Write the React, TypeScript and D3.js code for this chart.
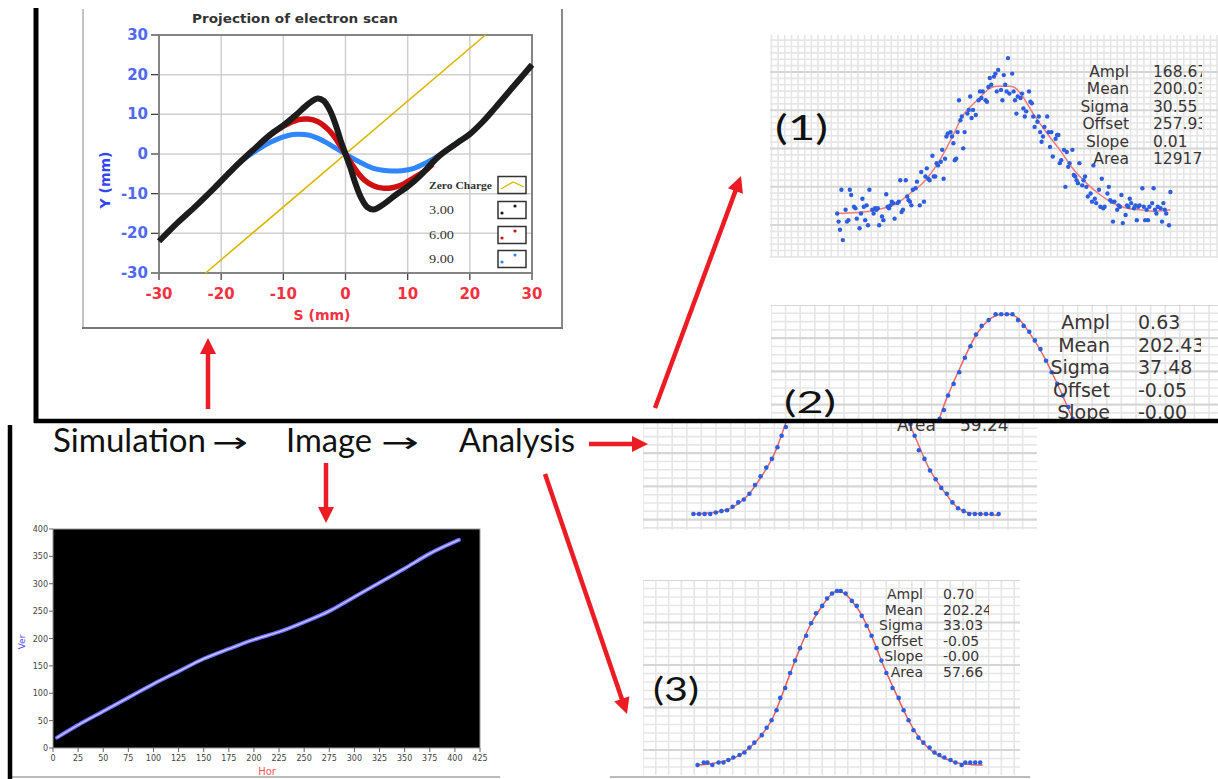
import React from "react";
import * as d3 from "d3";

// ---------- top-left chart: projection of electron scan (mm) ----------
const scanTicks = [-30, -20, -10, 0, 10, 20, 30];
const zeroS = [-22.5, 22.5];
const zeroY = [-30, 30];
const charge3S = [-30, -27, -24, -21, -18, -15, -12, -10, -8, -6, -4.5, -3.5, -2.5, -1.5, -0.8, 0, 0.8, 1.5, 2.5, 3.5, 4.5, 6, 8, 10, 12, 15, 18, 20, 22, 24, 27, 30];
const charge3Y = [-22, -17.3, -13, -8.4, -3.6, 0.8, 5, 7.2, 9.8, 12.6, 14, 13.4, 11, 7, 3.5, 0, -3.5, -7, -11, -13.4, -14, -12.8, -10.4, -8.2, -5.5, -0.6, 2.8, 5, 8, 11.5, 17, 22.5];
const charge6S = [-14, -13, -11, -9, -7.5, -6, -4.5, -3, -2, -1, 0, 1, 2, 3, 4.5, 6, 7.5, 9, 11, 13, 14];
const charge6Y = [2.2, 3.6, 6, 7.8, 8.7, 8.8, 8.2, 6.5, 4.8, 2.5, 0, -2.5, -4.8, -6.5, -8, -8.6, -8.5, -7.8, -6, -4, -2.6];
const charge9S = [-19, -18, -16, -14, -12, -10, -8.5, -7.5, -6, -4.5, -3, -1.5, 0, 1.5, 3, 4.5, 6, 7.5, 9, 11, 13, 15, 17, 18.5];
const charge9Y = [-5, -3.6, -0.9, 1.2, 3, 4.3, 4.9, 5, 4.8, 4, 2.8, 1.4, 0, -1.4, -2.6, -3.6, -4.1, -4.3, -4.2, -3.6, -2.2, -0.4, 1.8, 3.6];
const legendNames = ["Zero Charge", "3.00", "6.00", "9.00"];

// ---------- bottom-left chart: traced image ----------
const horTicks = [0, 25, 50, 75, 100, 125, 150, 175, 200, 225, 250, 275, 300, 325, 350, 375, 400, 425];
const verTicks = [0, 50, 100, 150, 200, 250, 300, 350, 400];
const traceHor = [4, 25, 50, 75, 100, 125, 150, 175, 200, 225, 250, 275, 300, 325, 350, 375, 404];
const traceVer = [19, 42, 67, 92, 117, 140, 163, 181, 198, 212, 230, 250, 276, 302, 328, 355, 380];

// ---------- analysis (1): noisy profile + fit ----------
const prof1X = [78, 79, 80, 82, 81, 84, 85, 86, 87, 88, 90, 91, 92, 94, 95, 96, 97, 98, 99, 100, 101, 103, 104, 105, 106, 107, 108, 110, 111, 113, 114, 115, 116, 117, 118, 119, 121, 122, 123, 124, 125, 127, 128, 129, 130, 131, 132, 134, 135, 137, 138, 140, 141, 142, 143, 144, 146, 147, 148, 149, 150, 152, 153, 154, 155, 156, 157, 159, 160, 161, 162, 163, 164, 165, 166, 167, 168, 169, 171, 172, 173, 174, 175, 177, 179, 180, 181, 182, 184, 185, 186, 187, 188, 190, 191, 192, 193, 196,
  195, 197, 198, 199, 200, 201, 203, 204, 205, 206, 207, 209, 210, 211, 212, 213, 215, 216, 217, 218, 219, 221, 222, 223, 224, 225, 226, 228, 229, 230, 231, 232, 234, 235, 236, 237, 238, 240, 241, 242, 243, 244, 246, 247, 248, 249, 250, 251, 253, 254, 255, 256, 257, 259, 260, 261, 262, 263, 265, 266, 267, 268, 269, 271, 272, 273, 274, 275, 276, 278, 279, 280, 281, 282, 284, 285, 286, 287, 288, 290, 291, 292, 293, 294, 296, 297, 298, 299, 300, 301, 303, 304, 305, 306, 307, 309, 310, 311, 312, 313, 315, 316];
const prof1Y = [256, 245, 234, 220, 288, 261, 245, 247, 288, 281, 265, 263, 249, 236, 256, 276, 265, 247, 267, 240, 288, 261, 256, 263, 261, 263, 240, 252, 247, 282, 265, 263, 267, 272, 270, 249, 270, 272, 301, 258, 261, 301, 279, 274, 272, 267, 288, 290, 299, 267, 312, 272, 306, 317, 303, 301, 334, 306, 306, 324, 321, 326, 342, 303, 330, 360, 364, 366, 360, 351, 328, 330, 366, 409, 382, 387, 344, 366, 391, 396, 414, 385, 396, 389, 409, 421, 412, 421, 409, 407, 427, 439, 430, 441, 445, 421, 450, 409,
  423, 443, 430, 421, 466, 418, 445, 421, 409, 391, 414, 412, 418, 398, 387, 394, 421, 407, 405, 387, 373, 380, 387, 366, 353, 360, 373, 387, 366, 346, 366, 333, 357, 362, 362, 324, 328, 342, 292, 339, 319, 324, 342, 308, 306, 301, 297, 324, 294, 301, 306, 292, 279, 283, 272, 321, 276, 270, 288, 265, 303, 263, 265, 283, 292, 274, 272, 245, 272, 261, 267, 265, 281, 243, 254, 267, 265, 276, 270, 263, 267, 247, 265, 267, 290, 265, 247, 261, 247, 265, 270, 290, 261, 256, 265, 263, 245, 270, 261, 256, 240, 285];
const fit1X = [77, 97, 111, 121, 130, 140, 149, 159, 168, 178, 187, 192, 201, 204, 209, 218, 228, 237, 247, 256, 266, 275, 285, 294, 304, 316];
const fit1Y = [256, 258, 263, 270, 283, 299, 321, 355, 389, 409, 425, 428, 428, 427, 418, 391, 364, 342, 315, 297, 281, 270, 263, 261, 259, 261];

// ---------- analysis (2) ----------
const prof2X = [92, 96, 100, 104, 108, 112, 116, 120, 124, 128, 132, 136, 140, 144, 148, 152, 155, 158, 161, 165, 169, 173, 177, 181, 185, 190, 195, 199, 203, 207, 211, 215, 219, 223, 227, 231, 235, 239, 243, 247, 250, 253, 257, 261, 265, 269, 273, 277, 281, 285, 289, 293, 297, 301, 305, 310];
const prof2Y = [-0.05, -0.05, -0.05, -0.05, -0.045, -0.04, -0.037, -0.025, -0.01, 0.0, 0.02, 0.05, 0.08, 0.11, 0.14, 0.18, 0.22, 0.25, 0.3, 0.34, 0.38, 0.43, 0.47, 0.51, 0.54, 0.56, 0.58, 0.58, 0.58, 0.58, 0.56, 0.54, 0.52, 0.49, 0.46, 0.42, 0.38, 0.34, 0.3, 0.26, 0.22, 0.17, 0.14, 0.1, 0.07, 0.04, 0.02, -0.01, -0.03, -0.04, -0.05, -0.05, -0.05, -0.05, -0.05, -0.05];
const fit2X = [92, 110, 120, 130, 140, 150, 160, 170, 180, 190, 200, 205, 210, 220, 230, 240, 250, 260, 270, 280, 290, 300, 310];
const fit2Y = [-0.05, -0.042, -0.027, 0.01, 0.075, 0.16, 0.29, 0.4, 0.5, 0.56, 0.58, 0.58, 0.57, 0.51, 0.43, 0.33, 0.22, 0.11, 0.035, -0.025, -0.047, -0.05, -0.055];

// ---------- analysis (3) ----------
const prof3X = [89, 94, 97, 101, 106, 110, 114, 118, 123, 127, 131, 135, 141, 145, 149, 153, 156, 160, 164, 168, 172, 177, 181, 185, 190, 194, 198, 202, 205, 209, 214, 218, 222, 226, 230, 234, 238, 242, 247, 252, 256, 260, 264, 268, 272, 277, 281, 285, 289, 294, 298, 303, 306, 310, 314, 318];
const prof3Y = [-0.05, -0.04, -0.04, -0.05, -0.04, -0.04, -0.03, -0.02, -0.01, 0.0, 0.02, 0.04, 0.07, 0.1, 0.13, 0.17, 0.22, 0.26, 0.32, 0.37, 0.42, 0.47, 0.52, 0.56, 0.59, 0.62, 0.64, 0.65, 0.65, 0.64, 0.61, 0.59, 0.55, 0.51, 0.47, 0.42, 0.37, 0.32, 0.26, 0.22, 0.17, 0.13, 0.09, 0.06, 0.04, 0.02, 0.0, -0.01, -0.02, -0.03, -0.04, -0.05, -0.04, -0.04, -0.04, -0.04];
const fit3X = [89, 100, 110, 120, 130, 140, 150, 160, 170, 180, 190, 196, 202, 208, 214, 220, 230, 240, 250, 260, 270, 280, 290, 300, 310, 320];
const fit3Y = [-0.05, -0.045, -0.035, -0.018, 0.015, 0.065, 0.14, 0.265, 0.395, 0.51, 0.59, 0.63, 0.65, 0.64, 0.61, 0.57, 0.47, 0.345, 0.235, 0.13, 0.05, 0.002, -0.025, -0.042, -0.048, -0.05];

const statNames = ["Ampl", "Mean", "Sigma", "Offset", "Slope", "Area"];
const stats1 = ["168.67", "200.03", "30.55", "257.93", "0.01", "12917"];
const stats2 = ["0.63", "202.43", "37.48", "-0.05", "-0.00", "59.24"];
const stats3 = ["0.70", "202.24", "33.03", "-0.05", "-0.00", "57.66"];

const RED = "#ec1c24";
const SANS = "DejaVu Sans, Verdana, sans-serif";
const CAL = "Lato, 'Open Sans', sans-serif";

function gridPos(a0, a1, o, step) {
  const k0 = Math.ceil((a0 - o) / step), k1 = Math.floor((a1 - o) / step);
  return d3.range(k0, k1 + 1).map(k => [k, o + k * step]);
}

function FitPanel({ id, rect, grid, xs, ys, dotX, dotY, fitX, fitY, r = 2.3, fitColor = "#ee6666" }) {
  const [x0, y0, x1, y1] = rect;
  const line = d3.line<number>().x((d, i) => xs(fitX[i])).y(d => ys(d)).curve(d3.curveMonotoneX);
  return (
    <g>
      <defs>
        <clipPath id={id}><rect x={x0} y={y0} width={x1 - x0} height={y1 - y0} /></clipPath>
      </defs>
      <g clipPath={`url(#${id})`}>
        {gridPos(x0, x1, grid.ox, grid.dx).map(([k, x]) => (
          <line key={"v" + k} x1={x} x2={x} y1={y0} y2={y1} stroke="#e6e6e6" strokeWidth={1.6} />
        ))}
        {gridPos(y0, y1, grid.oy, grid.dy).map(([k, y]) => (
          <line key={"h" + k} x1={x0} x2={x1} y1={y} y2={y}
            stroke={grid.major && k % grid.major === 0 ? "#d6d6d6" : "#e6e6e6"}
            strokeWidth={grid.major && k % grid.major === 0 ? 2.2 : 1.6} />
        ))}
        <path d={line(fitY)} fill="none" stroke={fitColor} strokeWidth={1.5} />
        {dotX.map((x, i) => (
          <circle key={i} cx={xs(x)} cy={ys(dotY[i])} r={r} fill="#2d5ee0" />
        ))}
      </g>
    </g>
  );
}

function Stats({ id, names, values, xl, xv, y0, step, fs, clip }) {
  return (
    <g fontFamily={SANS} fontSize={fs} fill="#3a3535">
      <defs>
        <clipPath id={id}><rect x={clip[0]} y={clip[1]} width={clip[2] - clip[0]} height={clip[3] - clip[1]} /></clipPath>
      </defs>
      <g clipPath={`url(#${id})`}>
        {names.map((n, i) => (
          <g key={n}>
            <text x={xl} y={y0 + i * step} textAnchor="end">{n}</text>
            <text x={xv} y={y0 + i * step}>{values[i]}</text>
          </g>
        ))}
      </g>
    </g>
  );
}

function ScanChart() {
  const sx = d3.scaleLinear().domain([-30, 30]).range([159, 532]);
  const sy = d3.scaleLinear().domain([-30, 30]).range([273, 35]);
  const mk = (S) => d3.line<number>().x((d, i) => sx(S[i])).y(d => sy(d)).curve(d3.curveCatmullRom.alpha(0.5));
  const legendY = [185, 210, 235, 259];
  const legendColors = ["#d9b800", "#1c1c1c", "#d01010", "#2f86ff"];
  return (
    <g>
      {/* panel frame */}
      <line x1={83} x2={83} y1={9} y2={328} stroke="#c4c4c4" strokeWidth={2} />
      <line x1={562} x2={562} y1={9} y2={328} stroke="#8a8a8a" strokeWidth={2} />
      <line x1={82} x2={563} y1={328} y2={328} stroke="#777" strokeWidth={2} />
      <text x={295} y={23} textAnchor="middle" fontFamily={SANS} fontWeight="bold" fontSize={13} fill="#333"
        textLength={206} lengthAdjust="spacingAndGlyphs">Projection of electron scan</text>
      {/* grid */}
      {scanTicks.map(t => (
        <g key={t}>
          <line x1={sx(t)} x2={sx(t)} y1={sy(30)} y2={sy(-30)} stroke="#cfcfcf" strokeWidth={1.5} />
          <line x1={sx(-30)} x2={sx(30)} y1={sy(t)} y2={sy(t)} stroke="#cfcfcf" strokeWidth={1.5} />
          <line x1={sx(-30) - 8} x2={sx(-30)} y1={sy(t)} y2={sy(t)} stroke="#444" strokeWidth={1.3} />
          <line x1={sx(t)} x2={sx(t)} y1={sy(-30)} y2={sy(-30) + 7} stroke="#444" strokeWidth={1.3} />
          <text x={148} y={sy(t) + 5} textAnchor="end" fontFamily={SANS} fontWeight="bold" fontSize={15} fill="#5068f2">{t}</text>
          <text x={sx(t)} y={299} textAnchor="middle" fontFamily={SANS} fontWeight="bold" fontSize={15} fill="#f5303f">{t}</text>
        </g>
      ))}
      <rect x={sx(-30)} y={sy(30)} width={sx(30) - sx(-30)} height={sy(-30) - sy(30)} fill="none" stroke="#7a7a7a" strokeWidth={1.8} />
      <text x={322} y={320} textAnchor="middle" fontFamily={SANS} fontWeight="bold" fontSize={14} fill="#f5303f">S (mm)</text>
      <text transform="translate(110,180) rotate(-90)" textAnchor="middle" fontFamily={SANS} fontWeight="bold" fontSize={14} fill="#3344ff">Y (mm)</text>
      {/* series: blue and red under the black band */}
      <path d={mk(zeroS)(zeroY)} fill="none" stroke="#d9b800" strokeWidth={1.6} />
      <path d={mk(charge9S)(charge9Y)} fill="none" stroke="#2f86ff" strokeWidth={5} />
      <path d={mk(charge6S)(charge6Y)} fill="none" stroke="#d01010" strokeWidth={5.5} />
      <path d={mk(charge3S)(charge3Y)} fill="none" stroke="#1c1c1c" strokeWidth={6} />
      {/* legend */}
      {legendNames.map((n, i) => (
        <g key={n}>
          <text x={i === 0 ? 492 : 454} y={legendY[i] + 4} textAnchor="end" fontFamily="Liberation Serif, serif"
            fontSize={i === 0 ? 11 : 13} fontWeight={i === 0 ? "bold" : "normal"} fill="#333"
            textLength={i === 0 ? 63 : 25} lengthAdjust="spacingAndGlyphs">{n}</text>
          <rect x={498} y={legendY[i] - 8.5} width={28} height={17} fill="#fff" stroke="#333" strokeWidth={1.5} />
          {i === 0 ? (
            <polyline points={`501,${legendY[i] + 4} 513,${legendY[i] - 3} 524,${legendY[i] + 2}`} fill="none" stroke={legendColors[0]} strokeWidth={1.3} />
          ) : (
            <g fill={legendColors[i]}>
              <circle cx={502} cy={legendY[i] + 3} r={1.6} />
              <circle cx={515} cy={legendY[i] - 4} r={1.6} />
            </g>
          )}
        </g>
      ))}
    </g>
  );
}

function ImageChart() {
  const hx = d3.scaleLinear().domain([0, 425]).range([53, 480]);
  const vy = d3.scaleLinear().domain([0, 400]).range([748, 529]);
  const line = d3.line<number>().x((d, i) => hx(traceHor[i])).y(d => vy(d)).curve(d3.curveMonotoneX);
  return (
    <g fontFamily={SANS} fontSize={8} fill="#444">
      <rect x={hx(0)} y={vy(400)} width={hx(425) - hx(0)} height={vy(0) - vy(400)} fill="#000" stroke="#999" strokeWidth={1} />
      {verTicks.map(t => (
        <g key={t}>
          <line x1={hx(0) - 4} x2={hx(0)} y1={vy(t)} y2={vy(t)} stroke="#666" />
          <text x={hx(0) - 5} y={vy(t) + 3} textAnchor="end">{t}</text>
        </g>
      ))}
      {horTicks.map(t => (
        <g key={t}>
          <line x1={hx(t)} x2={hx(t)} y1={vy(0)} y2={vy(0) + 4} stroke="#666" />
          <text x={hx(t)} y={vy(0) + 13} textAnchor="middle">{t}</text>
        </g>
      ))}
      <path d={line(traceVer)} fill="none" stroke="#6f6fff" strokeWidth={4} strokeLinecap="round" />
      <path d={line(traceVer)} fill="none" stroke="#c8c8ff" strokeWidth={1.4} strokeLinecap="round" />
      <text transform="translate(25,642) rotate(-90)" textAnchor="middle" fontSize={9} fill="#4a4aff">Ver</text>
      <text x={267} y={775} textAnchor="middle" fontSize={10} fill="#ff5555">Hor</text>
      <line x1={12} x2={500} y1={777} y2={777} stroke="#bbb" strokeWidth={2} />
    </g>
  );
}

function arrow(a, key) {
  const [x1, y1, x2, y2] = a;
  const ang = Math.atan2(y2 - y1, x2 - x1);
  const hl = 16, hw = 8;
  const bx = x2 - hl * Math.cos(ang), by = y2 - hl * Math.sin(ang);
  const px = -Math.sin(ang) * hw, py = Math.cos(ang) * hw;
  return (
    <g key={key}>
      <line x1={x1} y1={y1} x2={bx + Math.cos(ang) * 2} y2={by + Math.sin(ang) * 2} stroke={RED} strokeWidth={4.5} />
      <polygon points={`${x2},${y2} ${bx + px},${by + py} ${bx - px},${by - py}`} fill={RED} />
    </g>
  );
}

const arrows = [
  [208, 409, 208, 338],
  [326, 463, 326, 523],
  [589, 444, 648, 444],
  [545, 474, 627, 714],
  [655, 408, 741, 176],
];

export default function App() {
  // analysis panel scales
  const x1s = d3.scaleLinear().domain([200, 300]).range([1008, 1148]);
  const y1s = d3.scaleLinear().domain([258, 358]).range([212, 138]);
  const x2top = d3.scaleLinear().domain([202.4, 302.4]).range([1006, 1146]);
  const y2top = d3.scaleLinear().domain([-0.05, 0.95]).range([497, 207]);
  const x2low = d3.scaleLinear().domain([202.4, 302.4]).range([848, 988]);
  const y2low = d3.scaleLinear().domain([-0.05, 0.95]).range([514, 224]);
  const x3s = d3.scaleLinear().domain([202, 302]).range([837, 960.4]);
  const y3s = d3.scaleLinear().domain([-0.05, 0.95]).range([765, 516.4]);

  return (
    <div style={{ position: "absolute", left: 0, top: 0 }}>
      <svg width={1218} height={779} style={{ display: "block", background: "#fff" }}>
        <rect width={1218} height={779} fill="#fff" />

        {/* (1) */}
        <FitPanel id="p1" rect={[770, 35, 1218, 258]} grid={{ ox: 771.5, oy: 72, dx: 6.65, dy: 6.375, major: 6 }}
          xs={x1s} ys={y1s} dotX={prof1X} dotY={prof1Y} fitX={fit1X} fitY={fit1Y} r={2.2} fitColor="#f47a7a" />
        <Stats id="s1" names={statNames} values={stats1} xl={1129} xv={1153} y0={77} step={17.4} fs={15.5} clip={[1040, 35, 1202, 258]} />
        <text x={775} y={140} fontFamily={CAL} fontSize={34} fill="#111" textLength={53} lengthAdjust="spacingAndGlyphs">(1)</text>

        {/* (2) two offset copies */}
        <FitPanel id="p2a" rect={[771, 305, 1218, 420]} grid={{ ox: 771, oy: 305, dx: 14.6, dy: 8.3, major: 4 }}
          xs={x2top} ys={y2top} dotX={prof2X} dotY={prof2Y} fitX={fit2X} fitY={fit2Y} />
        <Stats id="s2" names={statNames.slice(0, 5)} values={stats2.slice(0, 5)} xl={1110} xv={1138} y0={329} step={22.5} fs={19} clip={[1040, 305, 1201, 420]} />
        <FitPanel id="p2b" rect={[643, 420, 1037, 530]} grid={{ ox: 643, oy: 420, dx: 14.6, dy: 8.3, major: 4 }}
          xs={x2low} ys={y2low} dotX={prof2X} dotY={prof2Y} fitX={fit2X} fitY={fit2Y} />
        <Stats id="s2b" names={statNames.slice(5)} values={stats2.slice(5)} xl={936} xv={960} y0={431} step={0} fs={17} clip={[860, 423, 1037, 530]} />
        <text x={784} y={413} fontFamily={CAL} fontSize={31} fill="#111" textLength={52} lengthAdjust="spacingAndGlyphs">(2)</text>

        {/* (3) */}
        <FitPanel id="p3" rect={[643, 580, 1020, 775]} grid={{ ox: 643, oy: 580, dx: 12.8, dy: 8.5, major: 5 }}
          xs={x3s} ys={y3s} dotX={prof3X} dotY={prof3Y} fitX={fit3X} fitY={fit3Y} fitColor="#ea5a5a" />
        <Stats id="s3" names={statNames} values={stats3} xl={923} xv={943} y0={599} step={15.6} fs={14} clip={[790, 580, 989, 775]} />
        <text x={653} y={701} fontFamily={CAL} fontSize={33} fill="#111" textLength={46} lengthAdjust="spacingAndGlyphs">(3)</text>
        <line x1={610} x2={1030} y1={777} y2={777} stroke="#bbb" strokeWidth={2} />

        <ScanChart />
        <ImageChart />

        {/* frame lines */}
        <line x1={36} x2={36} y1={8} y2={423} stroke="#000" strokeWidth={5} />
        <line x1={34} x2={1218} y1={421} y2={421} stroke="#000" strokeWidth={4.5} />
        <line x1={10} x2={10} y1={425} y2={779} stroke="#000" strokeWidth={4.5} />

        {/* workflow caption */}
        <g fontFamily={CAL} fontSize={32} fill="#111">
          <text x={53} y={452} textLength={153} lengthAdjust="spacingAndGlyphs">Simulation</text>
          <text x={212} y={452} fontFamily={SANS} fontSize={28} textLength={36} lengthAdjust="spacingAndGlyphs">→</text>
          <text x={286} y={452} textLength={86} lengthAdjust="spacingAndGlyphs">Image</text>
          <text x={381} y={452} fontFamily={SANS} fontSize={28} textLength={38} lengthAdjust="spacingAndGlyphs">→</text>
          <text x={459} y={452} textLength={116} lengthAdjust="spacingAndGlyphs">Analysis</text>
        </g>
        {arrows.map((a, i) => arrow(a, i))}
      </svg>
    </div>
  );
}
